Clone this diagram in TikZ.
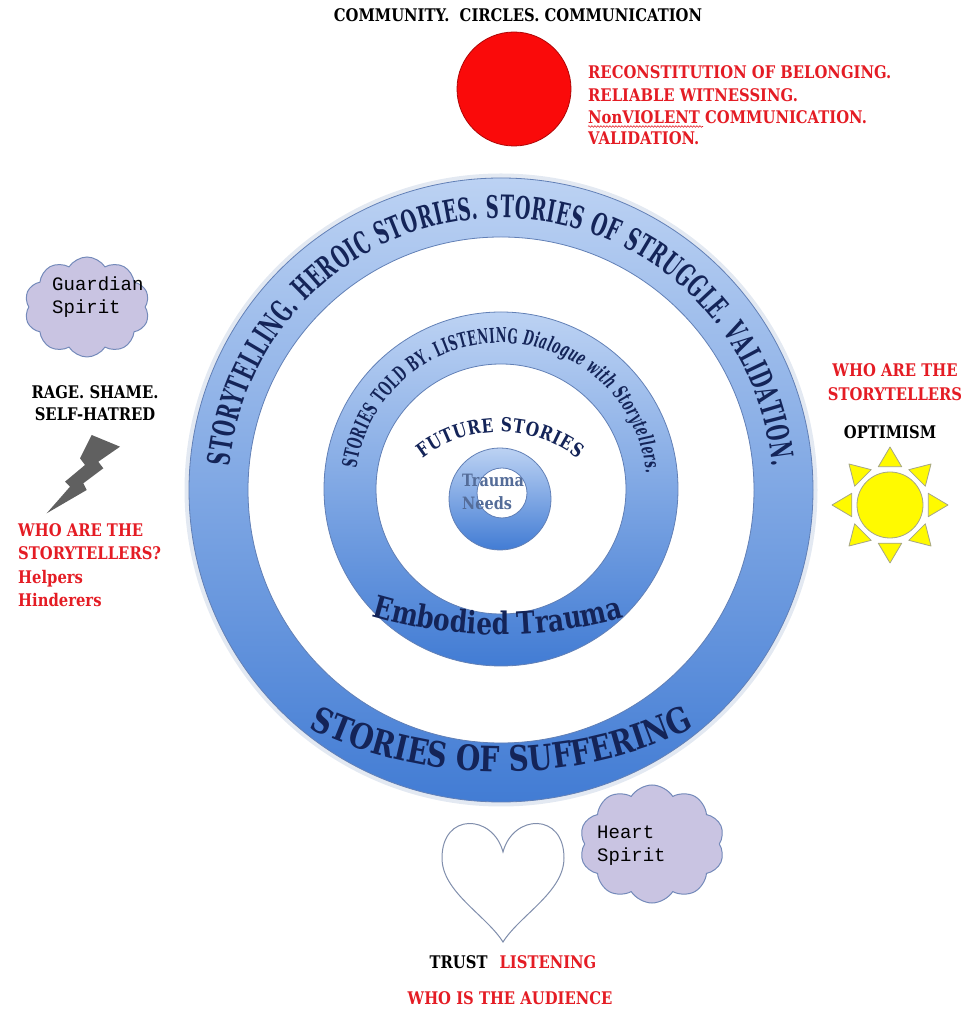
\documentclass[tikz,border=0pt]{standalone}
\usepackage{fontspec}
\setmainfont{DejaVu Serif}[FakeStretch=0.85]
\setmonofont{Liberation Mono}
\newfontfamily\ringfont{DejaVu Serif}[FakeStretch=0.58]
\newfontfamily\arcfont{DejaVu Serif}[FakeStretch=0.8]
\usetikzlibrary{shapes, shapes.symbols, decorations.text, decorations.pathmorphing, positioning}

\definecolor{ringnavy}{RGB}{20,36,88}
\definecolor{alarmred}{RGB}{228,28,36}
\definecolor{ringtop}{RGB}{188,210,243}
\definecolor{ringbottom}{RGB}{66,124,212}
\definecolor{ringedge}{RGB}{98,128,182}
\definecolor{needsblue}{RGB}{84,108,152}
\definecolor{cloudfill}{RGB}{201,196,226}
\definecolor{cloudedge}{RGB}{116,138,186}
\definecolor{boltgray}{RGB}{96,96,96}
\definecolor{sunyellow}{RGB}{255,250,0}
\definecolor{sunedge}{RGB}{165,165,135}
\definecolor{heartedge}{RGB}{128,142,172}
\definecolor{circlered}{RGB}{250,10,10}

\begin{document}
\begin{tikzpicture}[x=1pt, y=1pt,
		lbl/.style={font=\bfseries\fontsize{17.4}{22}\selectfont, align=center, inner sep=0pt},
		redlbl/.style={lbl, text=alarmred},
		spirit/.style={cloud, cloud puffs=10, cloud puff arc=115, cloud ignores aspect, draw=cloudedge, fill=cloudfill, line width=1pt},
		spirittext/.style={font=\ttfamily\fontsize{19}{22.5}\selectfont, align=left, inner sep=0pt},
		ring/.style={even odd rule, top color=ringtop, bottom color=ringbottom},
		rim/.style={draw=ringedge, line width=0.8pt},
		ray/.style={fill=sunyellow, draw=sunedge, line width=0.8pt, line join=round}]
		\useasboundingbox (0,0) rectangle (971,1010);
		\coordinate (hub) at (501,520);
		\coordinate (midhub) at (501,521);
		\coordinate (core) at (500,511);
		\coordinate (corehole) at (502,517);
		\draw[ringedge!35, line width=5pt, opacity=0.5] (hub) circle[radius=314];
		\path[ring] (hub) circle[radius=312] (hub) circle[radius=253];
		\draw[rim] (hub) circle[radius=312] (hub) circle[radius=253];
		\path[ring] (midhub) circle[radius=177] (midhub) circle[radius=125];
		\draw[rim] (midhub) circle[radius=177] (midhub) circle[radius=125];
		\path[ring] (core) circle[radius=51] (corehole) circle[radius=25];
		\draw[rim] (core) circle[radius=51] (corehole) circle[radius=25];
		\path[decorate, decoration={text along path, text align={fit to path}, text={|\ringfont\bfseries\fontsize{31}{31}\selectfont\color{ringnavy}|STORYTELLING. HEROIC STORIES. STORIES OF STRUGGLE. VALIDATION.}}] ([shift={(175:272)}]hub) arc[start angle=175, end angle=5, radius=272];
		\path[decorate, decoration={text along path, text align={fit to path}, text={|\arcfont\bfseries\fontsize{35}{35}\selectfont\color{ringnavy}|STORIES OF SUFFERING}}] (309,282) arc[start angle=244.3, end angle=295.7, radius=444];
		\path[decorate, decoration={text along path, text align={fit to path}, text={|\ringfont\bfseries\fontsize{20.5}{20.5}\selectfont\color{ringnavy}|STORIES TOLD BY. LISTENING |\ringfont\bfseries\itshape\fontsize{20.5}{20.5}\selectfont\color{ringnavy}|Dialogue with Storytellers.}}] ([shift={(172:146)}]midhub) arc[start angle=172, end angle=6, radius=146];
		\path[decorate, decoration={text along path, text align={fit to path}, text={|\arcfont\bfseries\fontsize{31}{31}\selectfont\color{ringnavy}|Embodied Trauma}}] (372,394) arc[start angle=253.4, end angle=285.8, radius=448];
		\path[decorate, decoration={text along path, text align={fit to path}, text={|\arcfont\bfseries\fontsize{19.3}{19.3}\selectfont\color{ringnavy}|FUTURE STORIES}}] ([shift={(128:126)}]500,452) arc[start angle=128, end angle=52, radius=126];
		\node[lbl, text=needsblue, align=left, font=\bfseries\fontsize{17}{23}\selectfont, anchor=north west] (needs) at (462,536) {Trauma\\Needs};
		\node[lbl] (community) at (518,995) {COMMUNITY.~ CIRCLES. COMMUNICATION};
		\node[circle, minimum size=114pt, fill=circlered, draw=circlered!70!black, line width=0.8pt] (belonging) at (514,921) {};
		\node[redlbl, anchor=base west] (reconst) at (588,931.5) {RECONSTITUTION OF BELONGING.};
		\node[redlbl, anchor=base west] (witness) at (588,908.5) {RELIABLE WITNESSING.};
		\node[redlbl, anchor=base west] (nonviol) at (588,886.5) {NonVIOLENT};
		\node[redlbl, right=5pt of nonviol.base east, anchor=base west] (nvc) {COMMUNICATION.};
		\node[redlbl, anchor=base west] (validation) at (588,865.5) {VALIDATION.};
		\draw[alarmred, line width=0.6pt, decorate, decoration={snake, amplitude=0.8pt, segment length=3pt}] ([yshift=-3pt]nonviol.base west) -- ([xshift=3pt, yshift=-3pt]nonviol.base east);
		\node[spirit, minimum width=125pt, minimum height=100pt] (guardian) at (87,703) {};
		\node[spirittext, anchor=north west] (guardiantext) at (52,733) {Guardian\\Spirit};
		\node[lbl] (rage) at (95,606.5) {RAGE. SHAME.\\SELF-HATRED};
		\fill[boltgray] (91.7,575) -- (120,563.3) -- (98.3,548.3) -- (103.3,541.7) -- (83.3,526.7) -- (86.7,520) -- (46.7,496.7) -- (70,523.3) -- (65,528.3) -- (85,545) -- (80,551.7) -- cycle;
		\node[redlbl, align=left, anchor=north west, font=\bfseries\fontsize{17.4}{23.5}\selectfont] (wholeft) at (18,487) {WHO ARE THE\\STORYTELLERS?\\Helpers\\Hinderers};
		\node[redlbl, anchor=north, font=\bfseries\fontsize{17.4}{24}\selectfont] (whoright) at (895,647) {WHO ARE THE\\STORYTELLERS};
		\node[lbl] (optimism) at (890,578) {OPTIMISM};
		\foreach \a in {0,45,...,315}
			\draw[ray] ([shift={(\a:58)}]890,505) -- ([shift={(\a+17:40)}]890,505) -- ([shift={(\a-17:40)}]890,505) -- cycle;
		\node[circle, minimum size=66pt, fill=sunyellow, draw=sunedge, line width=0.8pt] (sun) at (890,505) {};
		\draw[draw=heartedge, fill=white, line width=1pt] (503,158) .. controls (513,196) and (564,198) .. (564,152) .. controls (564,118) and (520,95) .. (503,68) .. controls (486,95) and (442,118) .. (442,152) .. controls (442,198) and (493,196) .. (503,158) -- cycle;
		\node[spirit, minimum width=145pt, minimum height=118pt] (heartcloud) at (652,166) {};
		\node[spirittext, anchor=north west] (heartcloudtext) at (597,184) {Heart\\Spirit};
		\node[lbl] (trust) at (513,48) {TRUST\hspace{12pt}\textcolor{alarmred}{LISTENING}};
		\node[redlbl] (audience) at (510,12) {WHO IS THE AUDIENCE};
	\end{tikzpicture}
\end{document}
